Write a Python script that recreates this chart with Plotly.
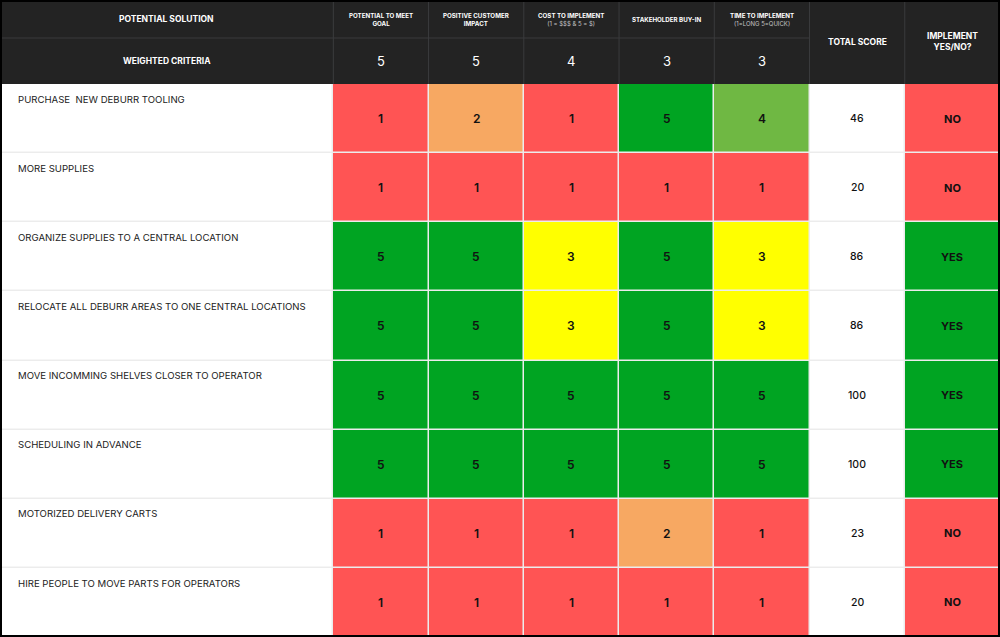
"""
Decision matrix: weighted criteria scoring of potential solutions.
Drawn as a heatmap (cell colours) with annotations for the text.
"""
import plotly.graph_objects as go

# ---- data ----
solutions = [
    "PURCHASE  NEW DEBURR TOOLING",
    "MORE SUPPLIES",
    "ORGANIZE SUPPLIES TO A CENTRAL LOCATION",
    "RELOCATE ALL DEBURR AREAS TO ONE CENTRAL LOCATIONS",
    "MOVE INCOMMING SHELVES CLOSER TO OPERATOR",
    "SCHEDULING IN ADVANCE",
    "MOTORIZED DELIVERY CARTS",
    "HIRE PEOPLE TO MOVE PARTS FOR OPERATORS",
]
criteria = [
    "POTENTIAL TO MEET<br>GOAL",
    "POSITIVE CUSTOMER<br>IMPACT",
    "COST TO IMPLEMENT",
    "STAKEHOLDER BUY-IN",
    "TIME TO IMPLEMENT",
]
criteria_notes = ["", "", "(1 = $$$ & 5 = $)", "", "(1=LONG 5=QUICK)"]
weights = [5, 5, 4, 3, 3]
scores = [
    [1, 2, 1, 5, 4],
    [1, 1, 1, 1, 1],
    [5, 5, 3, 5, 3],
    [5, 5, 3, 5, 3],
    [5, 5, 5, 5, 5],
    [5, 5, 5, 5, 5],
    [1, 1, 1, 2, 1],
    [1, 1, 1, 1, 1],
]
totals = [46, 20, 86, 86, 100, 100, 23, 20]
implement = ["NO", "NO", "YES", "YES", "YES", "YES", "NO", "NO"]

# ---- styling ----
FONT = "Inter"
HEADER_BG = "#232323"
HEADER_LINE = "#3a3b3d"
RED = "#ff5454"
ORANGE = "#f7a862"
YELLOW = "#ffff00"
LGREEN = "#6fb843"
GREEN = "#00a422"
COLORS = ["#ffffff", RED, ORANGE, YELLOW, LGREEN, GREEN]

COL0 = 3.5          # width of the solution column in column units
H1, H2 = 0.55, 0.665  # header row heights in row units
HTOP = -(H1 + H2)

n_rows = len(solutions)
n_crit = len(criteria)
x_edges = [0, COL0] + [COL0 + i for i in range(1, n_crit + 3)]
x_mid = [(a + b) / 2 for a, b in zip(x_edges[:-1], x_edges[1:])]
y_edges = list(range(n_rows + 1))

# colour codes: 0 white, 1..5 by score; implement NO -> 1, YES -> 5
z = []
for r in range(n_rows):
    z.append([0] + scores[r] + [0] + [5 if implement[r] == "YES" else 1])

colorscale = []
for k, c in enumerate(COLORS):
    colorscale.append([k / len(COLORS), c])
    colorscale.append([(k + 1) / len(COLORS), c])

fig = go.Figure(go.Heatmap(
    z=z, x=x_edges, y=y_edges,
    colorscale=colorscale, zmin=-0.5, zmax=len(COLORS) - 0.5,
    showscale=False, xgap=1.5, ygap=1.5, hoverinfo="skip",
))

shapes = []
# header background
shapes.append(dict(type="rect", xref="x", yref="y", x0=0, x1=x_edges[-1],
                   y0=HTOP, y1=0, fillcolor=HEADER_BG, line_width=0))
# header grid lines
shapes.append(dict(type="line", xref="x", yref="y", x0=0, x1=x_edges[-3],
                   y0=HTOP + H1, y1=HTOP + H1, line=dict(color=HEADER_LINE, width=1)))
for xe in x_edges[1:-1]:
    shapes.append(dict(type="line", xref="x", yref="y", x0=xe, x1=xe,
                       y0=HTOP, y1=0, line=dict(color=HEADER_LINE, width=1)))
# outer frame
shapes.append(dict(type="rect", xref="paper", yref="paper", x0=0, x1=1, y0=0, y1=1,
                   line=dict(color="#000000", width=4)))

ann = []
white = "#ffffff"
ann.append(dict(x=x_mid[0], y=HTOP + H1 / 2, text="<b>POTENTIAL SOLUTION</b>",
                font=dict(family=FONT, size=8.5, color=white)))
ann.append(dict(x=x_mid[0], y=HTOP + H1 + H2 / 2, text="<b>WEIGHTED CRITERIA</b>",
                font=dict(family=FONT, size=8.5, color=white)))
for i in range(n_crit):
    txt = "<b>" + criteria[i] + "</b>"
    if criteria_notes[i]:
        txt += "<br><span style='font-size:6px;color:#c4c4c4'>" + criteria_notes[i] + "</span>"
    ann.append(dict(x=x_mid[i + 1], y=HTOP + H1 / 2, text=txt,
                    font=dict(family=FONT, size=6.2, color=white)))
    ann.append(dict(x=x_mid[i + 1], y=HTOP + H1 + H2 / 2, text=str(weights[i]),
                    font=dict(family=FONT, size=13, color=white)))
ann.append(dict(x=x_mid[-2], y=HTOP / 2, text="<b>TOTAL SCORE</b>",
                font=dict(family=FONT, size=8.5, color=white)))
ann.append(dict(x=x_mid[-1], y=HTOP / 2, text="<b>IMPLEMENT<br>YES/NO?</b>",
                font=dict(family=FONT, size=8.5, color=white)))

for r in range(n_rows):
    ann.append(dict(x=0.17, y=r + 0.22, text=solutions[r], xanchor="left",
                    font=dict(family=FONT, size=9.6, color="#222222")))
    for i in range(n_crit):
        ann.append(dict(x=x_mid[i + 1], y=r + 0.5, text=str(scores[r][i]),
                        font=dict(family=FONT, size=12, color="#111111", weight=600)))
    ann.append(dict(x=x_mid[-2], y=r + 0.5, text=str(totals[r]),
                    font=dict(family=FONT, size=10.5, color="#111111", weight=500)))
    ann.append(dict(x=x_mid[-1], y=r + 0.5, text="<b>" + implement[r] + "</b>",
                    font=dict(family=FONT, size=11, color="#111111")))

for a in ann:
    a.update(xref="x", yref="y", showarrow=False)

fig.update_layout(
    width=1000, height=637,
    margin=dict(l=0, r=0, t=0, b=0),
    plot_bgcolor="#ececec", paper_bgcolor="#ffffff",
    xaxis=dict(range=[0, x_edges[-1]], visible=False, fixedrange=True),
    yaxis=dict(range=[n_rows, HTOP], visible=False, fixedrange=True),
    shapes=shapes, annotations=ann,
)

fig.write_html("out.html", config={"displayModeBar": False},
               post_script="document.body.style.margin='0';document.body.style.overflow='hidden';")
